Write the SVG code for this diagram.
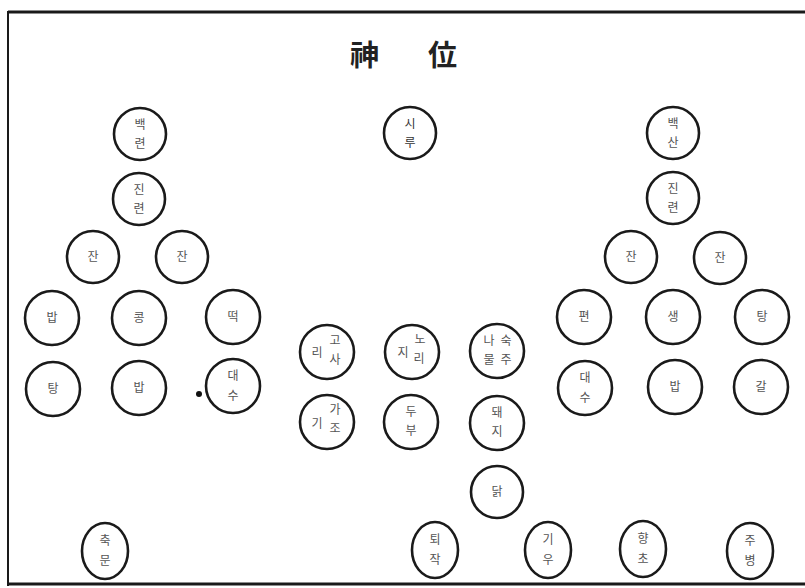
<svg xmlns="http://www.w3.org/2000/svg" width="805" height="588" viewBox="0 0 805 588">
<style>
.n{fill:#fff;stroke:#1a1a1a;stroke-width:2.6}
.t{font-family:"Noto Sans CJK KR","Noto Sans",sans-serif;font-size:12px;fill:#555;text-anchor:middle}
.title{font-family:"Noto Sans CJK KR","Noto Sans CJK SC",sans-serif;font-size:29px;fill:#222;font-weight:bold}
</style>
<rect width="805" height="588" fill="#fff"/>
<g id="frame" stroke="#1a1a1a" fill="none">
<line x1="8" y1="12" x2="805" y2="12" stroke-width="3"/>
<line x1="8" y1="11" x2="8" y2="586" stroke-width="2"/>
<line x1="8" y1="584" x2="805" y2="584" stroke-width="3"/>
</g>
<g id="title"><text class="title" x="350" y="66">神</text><text class="title" x="428" y="66">位</text></g>
<g id="connectors"></g>
<!-- left group -->
<g id="L1"><circle class="n" cx="140" cy="134" r="26"/><text class="t" x="140" y="129">백</text><text class="t" x="140" y="148">련</text></g>
<g id="L2"><circle class="n" cx="139" cy="199" r="26"/><text class="t" x="139" y="194">진</text><text class="t" x="139" y="213">련</text></g>
<g id="L3"><circle class="n" cx="93" cy="257" r="26"/><text class="t" x="93" y="261">잔</text></g>
<g id="L4"><circle class="n" cx="182" cy="257" r="26"/><text class="t" x="182" y="261">잔</text></g>
<g id="L5"><circle class="n" cx="52" cy="318" r="27"/><text class="t" x="52" y="322">밥</text></g>
<g id="L6"><circle class="n" cx="139" cy="318" r="27"/><text class="t" x="139" y="322">콩</text></g>
<g id="L7"><circle class="n" cx="233" cy="317" r="27"/><text class="t" x="233" y="321">떡</text></g>
<g id="L8"><circle class="n" cx="53" cy="389" r="27"/><text class="t" x="53" y="393">탕</text></g>
<g id="L9"><circle class="n" cx="139" cy="388" r="27"/><text class="t" x="139" y="392">밥</text></g>
<g id="L10"><circle class="n" cx="233" cy="386" r="27"/><text class="t" x="233" y="380">대</text><text class="t" x="233" y="400">수</text></g>
<circle cx="199" cy="394" r="3" fill="#111"/>
<!-- center -->
<g id="C0"><circle class="n" cx="410" cy="133" r="26"/><text class="t" x="410" y="128" style="fill:#333">시</text><text class="t" x="410" y="147" style="fill:#333">루</text></g>
<g id="C1"><circle class="n" cx="327" cy="352" r="27"/><text class="t" x="335" y="345">고</text><text class="t" x="335" y="364">사</text><text class="t" x="317" y="357">리</text></g>
<g id="C2"><circle class="n" cx="412" cy="352" r="27"/><text class="t" x="420" y="344">노</text><text class="t" x="419" y="363">리</text><text class="t" x="403" y="357">지</text></g>
<g id="C3"><circle class="n" cx="497" cy="351" r="27"/><text class="t" x="489" y="345">나</text><text class="t" x="489" y="364">물</text><text class="t" x="506" y="345">숙</text><text class="t" x="506" y="364">주</text></g>
<g id="C4"><circle class="n" cx="327" cy="422" r="27"/><text class="t" x="335" y="414">가</text><text class="t" x="335" y="433">조</text><text class="t" x="317" y="428">기</text></g>
<g id="C5"><circle class="n" cx="411" cy="422" r="27"/><text class="t" x="411" y="416">두</text><text class="t" x="411" y="435">부</text></g>
<g id="C6"><circle class="n" cx="497" cy="423" r="27"/><text class="t" x="497" y="417">돼</text><text class="t" x="497" y="436">지</text></g>
<g id="C7"><circle class="n" cx="497" cy="492" r="26"/><text class="t" x="497" y="496">닭</text></g>
<!-- right group -->
<g id="R1"><circle class="n" cx="673" cy="133" r="26"/><text class="t" x="673" y="128">백</text><text class="t" x="673" y="147">산</text></g>
<g id="R2"><circle class="n" cx="673" cy="198" r="26"/><text class="t" x="673" y="193">진</text><text class="t" x="673" y="212">련</text></g>
<g id="R3"><circle class="n" cx="631" cy="257" r="26"/><text class="t" x="631" y="261">잔</text></g>
<g id="R4"><circle class="n" cx="720" cy="258" r="26"/><text class="t" x="720" y="262">잔</text></g>
<g id="R5"><circle class="n" cx="584" cy="317" r="27"/><text class="t" x="584" y="321">편</text></g>
<g id="R6"><circle class="n" cx="673" cy="317" r="27"/><text class="t" x="673" y="321">생</text></g>
<g id="R7"><circle class="n" cx="762" cy="317" r="27"/><text class="t" x="762" y="321">탕</text></g>
<g id="R8"><circle class="n" cx="585" cy="388" r="27"/><text class="t" x="585" y="382">대</text><text class="t" x="585" y="402">수</text></g>
<g id="R9"><circle class="n" cx="675" cy="387" r="27"/><text class="t" x="675" y="391">밥</text></g>
<g id="R10"><circle class="n" cx="761" cy="387" r="27"/><text class="t" x="761" y="391">갈</text></g>
<!-- bottom -->
<g id="B1"><ellipse class="n" cx="105" cy="551" rx="23" ry="28"/><text class="t" x="105" y="545">축</text><text class="t" x="105" y="565">문</text></g>
<g id="B2"><ellipse class="n" cx="435" cy="550" rx="23" ry="28"/><text class="t" x="435" y="544">퇴</text><text class="t" x="435" y="564">작</text></g>
<g id="B3"><ellipse class="n" cx="548" cy="550" rx="23" ry="28"/><text class="t" x="548" y="544">기</text><text class="t" x="548" y="564">우</text></g>
<g id="B4"><ellipse class="n" cx="643" cy="549" rx="23" ry="28"/><text class="t" x="643" y="543">향</text><text class="t" x="643" y="563">초</text></g>
<g id="B5"><ellipse class="n" cx="750" cy="551" rx="23" ry="28"/><text class="t" x="750" y="545">주</text><text class="t" x="750" y="565">병</text></g>
</svg>
